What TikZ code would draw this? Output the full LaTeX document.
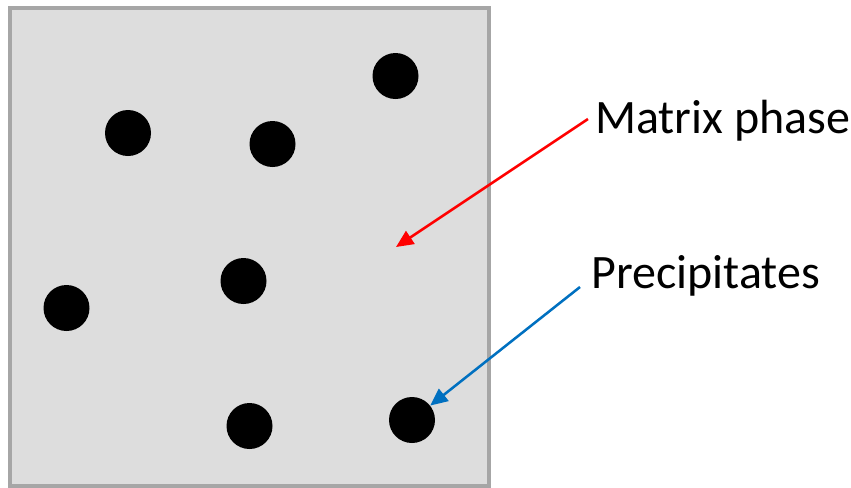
\documentclass[tikz,border=0pt]{standalone}
\usepackage{fontspec}
\setmainfont{Carlito}
\usetikzlibrary{arrows.meta}
\definecolor{matrixgray}{HTML}{DDDDDD}
\definecolor{edgegray}{HTML}{A6A6A6}
\definecolor{precblue}{HTML}{0070C0}

\begin{document}
\begin{tikzpicture}[
	x=0.75pt, y=-0.75pt,
	grain/.style={circle, fill=black, inner sep=0pt, minimum size=34.5pt},
	lbl/.style={anchor=base west, inner sep=0pt, font=\fontsize{36}{42}\selectfont},
	pointer/.style={line width=1.9pt, -{Triangle[length=13pt, width=11.5pt]}}
]
	\useasboundingbox (0,0) rectangle (851,487);
	% matrix
	\draw[fill=matrixgray, draw=edgegray, line width=2.3pt] (10,8) rectangle (489,486);

	% precipitates
	\node[grain] (p1) at (395.5,76) {};
	\node[grain] (p2) at (128,133) {};
	\node[grain] (p3) at (272.5,144) {};
	\node[grain] (p4) at (243.5,281) {};
	\node[grain] (p5) at (66.5,308) {};
	\node[grain] (p6) at (249.5,426) {};
	\node[grain] (p7) at (412,420) {};

	% labels
	\node[lbl] (matrixlbl) at (595,133) {Matrix phase};
	\node[lbl] (preclbl) at (591,288) {Precipitates};

	\coordinate (mtail) at (588,119);
	\coordinate (mhead) at (396,247);
	\coordinate (ptail) at (580,287);

	\draw[pointer, red] (mtail) -- (mhead);
	\draw[pointer, precblue] (ptail) -- (p7);
\end{tikzpicture}
\end{document}
